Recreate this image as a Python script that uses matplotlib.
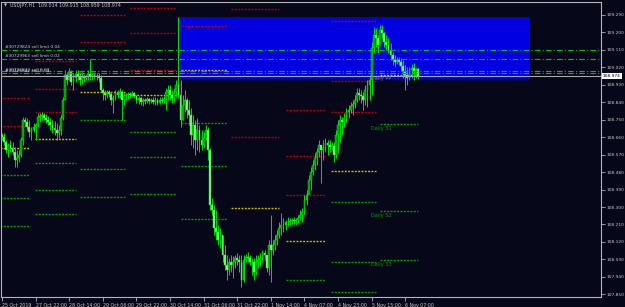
import matplotlib
matplotlib.use("Agg")
from matplotlib import pyplot as plt
from matplotlib.patches import Rectangle
import matplotlib.transforms as mtransforms

plt.rcParams['font.family'] = ['Liberation Sans Narrow', 'DejaVu Sans']

title = "USDJPY,H1  109.014 109.015 108.959 108.974"
bid = 108.974

# H1 bars, open of each bar = close of the one before
first_open = 108.671
highs = [108.682, 108.682, 108.645, 108.630, 108.645, 108.635, 108.609, 108.594, 108.594, 108.661,
         108.764, 108.764, 108.759, 108.749, 108.712, 108.733, 108.733, 108.785, 108.785, 108.790,
         108.785, 108.779, 108.769, 108.759, 108.749, 108.744, 108.733, 108.723, 108.774, 108.867,
         109.006, 108.996, 109.017, 109.006, 108.991, 109.006, 109.006, 108.996, 108.996, 108.986,
         108.981, 109.006, 109.063, 108.996, 108.996, 108.991, 108.991, 108.981, 108.914, 108.903,
         108.903, 108.903, 108.893, 108.878, 108.903, 108.903, 108.914, 108.903, 108.888, 108.888,
         108.893, 108.893, 108.898, 108.893, 108.878, 108.872, 108.867, 108.862, 108.862, 108.867,
         108.862, 108.862, 108.867, 108.867, 108.862, 108.867, 108.867, 108.872, 108.914, 108.929,
         108.929, 108.903, 108.914, 108.955, 109.279, 108.955, 108.878, 108.903, 108.862, 108.852,
         108.810, 108.774, 108.749, 108.759, 108.723, 108.697, 108.687, 108.723, 108.712, 108.604,
         108.347, 108.310, 108.284, 108.207, 108.192, 108.155, 108.104, 108.052, 108.037, 108.052,
         108.047, 108.052, 108.063, 108.052, 108.052, 108.052, 108.058, 108.068, 108.052, 108.037,
         108.037, 108.052, 108.052, 108.063, 108.078, 108.078, 108.052, 108.130, 108.259, 108.130,
         108.155, 108.181, 108.223, 108.269, 108.243, 108.233, 108.248, 108.243, 108.243, 108.248,
         108.243, 108.259, 108.284, 108.295, 108.362, 108.388, 108.465, 108.506, 108.542, 108.578,
         108.604, 108.645, 108.620, 108.645, 108.656, 108.645, 108.645, 108.635, 108.635, 108.697,
         108.749, 108.774, 108.764, 108.785, 108.810, 108.826, 108.841, 108.852, 108.878, 108.914,
         108.914, 108.903, 108.893, 108.929, 108.955, 108.981, 109.151, 109.228, 109.223, 109.187,
         109.238, 109.238, 109.202, 109.187, 109.171, 109.146, 109.099, 109.084, 109.073, 109.073,
         109.068, 109.058, 109.032, 109.022, 109.022, 109.037, 109.042, 109.017, 109.015]
lows = [108.645, 108.620, 108.578, 108.558, 108.584, 108.568, 108.506, 108.506, 108.532, 108.558,
        108.620, 108.718, 108.697, 108.661, 108.645, 108.687, 108.645, 108.712, 108.738, 108.749,
        108.749, 108.733, 108.723, 108.697, 108.682, 108.671, 108.645, 108.656, 108.671, 108.749,
        108.852, 108.929, 108.955, 108.929, 108.903, 108.945, 108.955, 108.929, 108.934, 108.945,
        108.955, 108.955, 108.955, 108.955, 108.960, 108.955, 108.945, 108.893, 108.852, 108.852,
        108.862, 108.867, 108.826, 108.785, 108.852, 108.862, 108.862, 108.749, 108.826, 108.852,
        108.857, 108.862, 108.867, 108.862, 108.836, 108.831, 108.826, 108.821, 108.831, 108.836,
        108.831, 108.836, 108.831, 108.826, 108.826, 108.831, 108.836, 108.836, 108.800, 108.852,
        108.852, 108.836, 108.841, 108.867, 108.862, 108.712, 108.749, 108.790, 108.759, 108.723,
        108.620, 108.604, 108.568, 108.594, 108.584, 108.594, 108.604, 108.645, 108.542, 108.284,
        108.259, 108.155, 108.130, 108.104, 108.088, 108.016, 107.975, 107.923, 107.949, 107.965,
        107.934, 107.985, 108.001, 107.965, 107.888, 107.913, 108.016, 108.016, 108.001, 107.949,
        107.923, 107.949, 107.985, 107.996, 108.016, 108.027, 107.965, 107.949, 107.913, 108.052,
        108.078, 108.104, 108.140, 108.155, 108.171, 108.181, 108.202, 108.207, 108.212, 108.212,
        108.207, 108.218, 108.233, 108.223, 108.259, 108.310, 108.378, 108.388, 108.465, 108.491,
        108.517, 108.558, 108.424, 108.542, 108.584, 108.568, 108.584, 108.594, 108.532, 108.553,
        108.578, 108.635, 108.671, 108.712, 108.738, 108.759, 108.785, 108.774, 108.810, 108.841,
        108.852, 108.836, 108.800, 108.826, 108.816, 108.852, 108.878, 109.094, 109.125, 109.094,
        109.135, 109.171, 109.125, 109.110, 109.094, 109.058, 109.032, 109.022, 109.037, 109.032,
        109.006, 108.965, 108.903, 108.929, 108.955, 108.965, 108.955, 108.965, 108.959]
closes = [108.661, 108.635, 108.594, 108.620, 108.604, 108.584, 108.542, 108.553, 108.568, 108.645,
          108.749, 108.738, 108.712, 108.687, 108.697, 108.712, 108.723, 108.764, 108.769, 108.774,
          108.759, 108.749, 108.738, 108.723, 108.707, 108.697, 108.682, 108.697, 108.759, 108.852,
          108.981, 108.955, 108.996, 108.945, 108.965, 108.986, 108.975, 108.955, 108.970, 108.965,
          108.970, 108.986, 108.975, 108.981, 108.970, 108.975, 108.965, 108.903, 108.888, 108.878,
          108.893, 108.883, 108.852, 108.862, 108.888, 108.878, 108.893, 108.852, 108.872, 108.878,
          108.883, 108.878, 108.888, 108.872, 108.852, 108.862, 108.841, 108.852, 108.847, 108.857,
          108.847, 108.852, 108.841, 108.852, 108.836, 108.852, 108.847, 108.857, 108.893, 108.903,
          108.878, 108.862, 108.893, 108.929, 108.878, 108.749, 108.826, 108.852, 108.800, 108.774,
          108.671, 108.723, 108.645, 108.697, 108.645, 108.620, 108.656, 108.697, 108.594, 108.310,
          108.284, 108.192, 108.171, 108.130, 108.155, 108.052, 108.001, 107.975, 108.016, 108.001,
          108.016, 108.037, 108.027, 108.016, 107.923, 108.027, 108.042, 108.037, 108.016, 108.016,
          107.965, 108.016, 108.027, 108.037, 108.063, 108.052, 107.985, 108.104, 108.078, 108.104,
          108.130, 108.155, 108.192, 108.207, 108.207, 108.223, 108.223, 108.228, 108.233, 108.228,
          108.233, 108.243, 108.259, 108.274, 108.336, 108.362, 108.439, 108.481, 108.517, 108.553,
          108.584, 108.620, 108.594, 108.604, 108.630, 108.620, 108.609, 108.615, 108.568, 108.671,
          108.723, 108.749, 108.738, 108.759, 108.790, 108.800, 108.821, 108.831, 108.852, 108.888,
          108.878, 108.872, 108.852, 108.903, 108.929, 108.955, 109.120, 109.187, 109.171, 109.135,
          109.213, 109.197, 109.151, 109.135, 109.110, 109.084, 109.058, 109.048, 109.058, 109.048,
          109.027, 108.996, 108.981, 108.965, 109.006, 109.017, 108.996, 109.014, 108.974]

time_ticks = [0, 16, 32, 48, 64, 80, 96, 112, 128, 144, 160, 176, 192]
time_labels = ["25 Oct 2019", "27 Oct 22:00", "28 Oct 14:00", "29 Oct 06:00", "29 Oct 22:00",
               "30 Oct 14:00", "31 Oct 06:00", "31 Oct 22:00", "1 Nov 14:00", "4 Nov 07:00",
               "4 Nov 23:00", "5 Nov 15:00", "6 Nov 07:00"]
price_ticks = [107.850, 107.940, 108.030, 108.120, 108.210, 108.300, 108.390, 108.480, 108.570,
               108.660, 108.750, 108.840, 108.930, 109.020, 109.110, 109.200, 109.290]

# daily pivot levels, one entry per day
day_start = [-1, 15.5, 37, 61, 85, 109, 135, 156.5, 180]
day_end = [13.3, 35, 58.5, 83, 107, 132, 154, 178, 198]
r3 = [108.975, 109.053, None, 109.326, None, None, 108.800, 109.259, None]
r2 = [108.862, 108.908, 109.290, 109.197, None, 109.321, 108.563, 108.950, None]
r1 = [108.718, 108.790, 109.151, 109.006, 109.233, 108.661, 108.362, 108.790, None]
pp = [108.604, 108.651, 108.893, 108.878, 109.006, 108.295, 108.125, 108.486, 108.981]
s1 = [108.465, 108.527, 108.749, 108.687, 108.733, None, 107.923, 108.326, 108.728]
s2 = [108.347, 108.388, 108.496, 108.558, 108.511, None, None, 108.016, 108.279]
s3 = [108.202, 108.264, 108.352, 108.367, 108.238, None, None, 107.862, 108.027]

# pending / open orders
order_prices = [109.109, 109.063, 108.999, 108.989]
order_texts = ["#30729824 sell limit 0.04", "#30729963 sell limit 0.02", "#30726842 sell 0.03"]

# rectangle object
box_x = (84, 251.5)
box_y = (108.958, 109.279)

bg = '#07071a'
fg = '#c8c8c8'
small = 3.1

fig = plt.figure(figsize=(6.25, 3.07), dpi=100, facecolor=bg)
ax = fig.add_axes([1.5 / 625, 10 / 307, 599.5 / 625, 295 / 307], facecolor=bg)
ax.set_xlim(-0.25, -0.25 + 599.5 / 2.1)
ax.set_ylim(107.836, 109.357)

ax.add_patch(Rectangle((box_x[0], box_y[0]), box_x[1] - box_x[0], box_y[1] - box_y[0],
                       facecolor='#0000e0', edgecolor='none', zorder=0))

dots = (0, (1.4, 1.0))
for k in range(len(day_start)):
    for lev, col in [(r3, '#c00000'), (r2, '#c00000'), (r1, '#c00000'), (pp, '#c8c000'),
                     (s1, '#00a000'), (s2, '#00a000'), (s3, '#00a000')]:
        if lev[k] is not None:
            ax.plot([day_start[k], day_end[k]], [lev[k], lev[k]], color=col, linestyle=dots,
                    linewidth=1.0, zorder=2)

ax.text(175.6, 108.962, "Daily PP", color='#808080', fontsize=3.6, va='center', zorder=5)
ax.text(175.6, 108.705, "Daily S1", color='#00a000', fontsize=3.6, va='center', zorder=5)
ax.text(175.6, 108.257, "Daily S2", color='#00a000', fontsize=3.6, va='center', zorder=5)
ax.text(175.6, 108.004, "Daily S3", color='#00a000', fontsize=3.6, va='center', zorder=5)

# candles
opens = [first_open] + closes[:-1]
idx = list(range(len(closes)))
ax.vlines(idx, lows, highs, color='#00e000', linewidth=0.7, zorder=3)
up = [i for i in idx if closes[i] >= opens[i]]
dn = [i for i in idx if closes[i] < opens[i]]
ax.bar(up, [max(closes[i] - opens[i], 0.002) for i in up], bottom=[opens[i] for i in up],
       width=0.85, color='#009a00', edgecolor='#00ff00', linewidth=0.3, zorder=3)
ax.bar(dn, [opens[i] - closes[i] for i in dn], bottom=[closes[i] for i in dn],
       width=0.85, color='#90f090', edgecolor='#00ff00', linewidth=0.3, zorder=3)

for p in order_prices:
    ax.axhline(p, color='#00c000', linestyle=(0, (5, 2, 1, 2)), linewidth=0.8, zorder=4)
ax.axhline(bid, color='#a8a8a8', linewidth=0.8, zorder=4)

ax.text(1.3, 109.126, order_texts[0], color=fg, fontsize=small, va='center', zorder=5)
ax.text(1.3, 109.079, order_texts[1], color=fg, fontsize=small, va='center', zorder=5)
ax.text(1.3, 109.006, order_texts[2], color=fg, fontsize=small, va='center', zorder=5)
ax.text(1.5, 109.002, order_texts[2], color=fg, fontsize=small, va='center', zorder=5)

for s in ax.spines.values():
    s.set_color('#b4b4b4')
    s.set_linewidth(0.8)

ax.yaxis.tick_right()
ax.set_yticks(price_ticks)
ax.set_yticklabels(["%.3f" % p for p in price_ticks])
ax.tick_params(axis='y', colors='#b4b4b4', labelcolor=fg, labelsize=3.2, length=3, pad=1.0,
               width=0.6)
ax.set_xticks(time_ticks)
ax.set_xticklabels(time_labels, ha='left')
ax.tick_params(axis='x', colors='#b4b4b4', labelcolor=fg, labelsize=3.4, length=3, pad=1.2,
               width=0.6)

trans = mtransforms.blended_transform_factory(ax.transAxes, ax.transData)
ax.text(1.003, bid, "%.3f" % bid, transform=trans, fontsize=3.2, color='black', va='center',
        ha='left', bbox=dict(boxstyle='square,pad=0.25', facecolor='white', edgecolor='none'),
        zorder=6, clip_on=False)

fig.text(4 / 625, 1 - 5.5 / 307, "\u25bc", color=fg, fontsize=2.8, va='center')
fig.text(10 / 625, 1 - 5.5 / 307, title, color=fg, fontsize=3.4, va='center')

fig.savefig("out.png", dpi=100, facecolor=bg)
